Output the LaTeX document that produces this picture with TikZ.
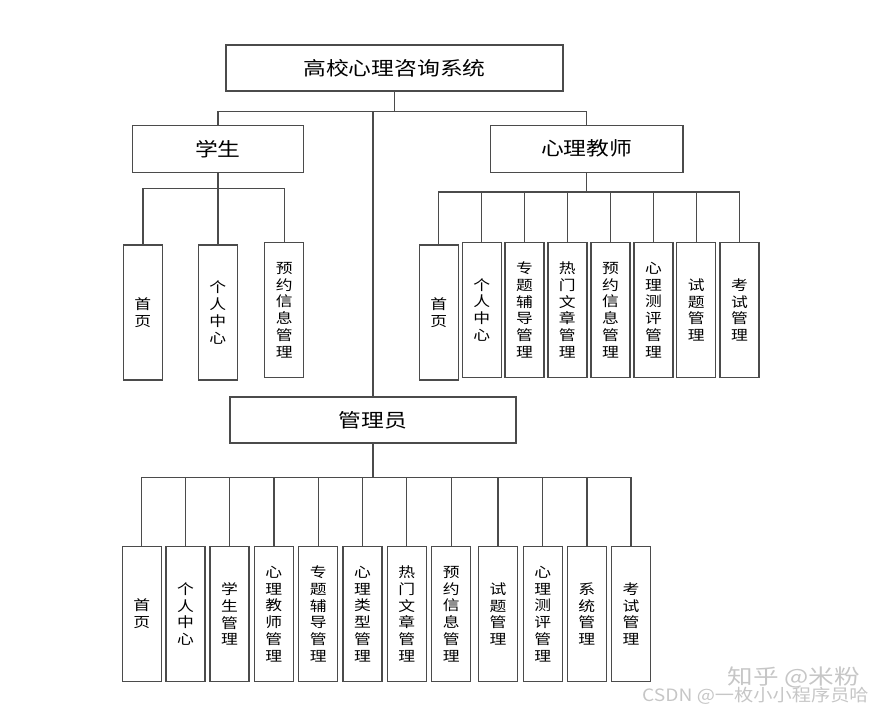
\documentclass[tikz,border=0pt]{standalone}
\usepackage{fontspec}
\usepackage{graphicx}
\usepackage{xcolor}
\setmainfont{Noto Sans CJK SC}
\definecolor{linegray}{RGB}{75,75,75}

\begin{document}
\begin{tikzpicture}[
    x=1pt, y=-1pt,
    conn/.style={draw=linegray, line width=1.4pt},
    topbox/.style={draw=linegray, line width=1.4pt, inner sep=0pt, xscale=1.2,
        font=\fontsize{19}{22}\selectfont},
    leaf/.style={draw=linegray, line width=1.4pt, inner sep=0pt, xscale=1.2,
        minimum width=32.5pt, minimum height=135pt, align=center,
        font=\fontsize{14}{16.8}\selectfont},
    wmark/.style={text=gray!45, inner sep=0pt}
]
\useasboundingbox (0,0) rectangle (887,715);

% Top level
\node[topbox, minimum width=280.8pt, minimum height=46pt] (sys) at (394.5,68) {高校心理咨询系统};
\node[topbox, minimum width=142.5pt, minimum height=47pt] (stu) at (217.8,148.8) {学生};
\node[topbox, minimum width=160.8pt, minimum height=47pt] (tea) at (586.7,148.8) {心理教师};
\node[topbox, minimum width=238.3pt, minimum height=46pt] (adm) at (373,420) {管理员};

% Student modules
\node[leaf] (s1) at (142.8,312.5) {首\\页};
\node[leaf] (s2) at (217.8,312.5) {个\\人\\中\\心};
\node[leaf] (s3) at (284.2,310) {预\\约\\信\\息\\管\\理};

% Teacher modules
\node[leaf] (t1) at (438.7,312.5) {首\\页};
\node[leaf] (t2) at (481.7,309.8) {个\\人\\中\\心};
\node[leaf] (t3) at (524.5,310) {专\\题\\辅\\导\\管\\理};
\node[leaf] (t4) at (567.3,310) {热\\门\\文\\章\\管\\理};
\node[leaf] (t5) at (610.5,310) {预\\约\\信\\息\\管\\理};
\node[leaf] (t6) at (653.4,310) {心\\理\\测\\评\\管\\理};
\node[leaf] (t7) at (696.2,310) {试\\题\\管\\理};
\node[leaf] (t8) at (739.4,310) {考\\试\\管\\理};

% Admin modules
\node[leaf] (a1) at (141.7,614) {首\\页};
\node[leaf] (a2) at (185.5,614) {个\\人\\中\\心};
\node[leaf] (a3) at (229.5,614) {学\\生\\管\\理};
\node[leaf] (a4) at (273.8,614) {心\\理\\教\\师\\管\\理};
\node[leaf] (a5) at (318.2,614) {专\\题\\辅\\导\\管\\理};
\node[leaf] (a6) at (362.5,614) {心\\理\\类\\型\\管\\理};
\node[leaf] (a7) at (406.7,614) {热\\门\\文\\章\\管\\理};
\node[leaf] (a8) at (451.2,614) {预\\约\\信\\息\\管\\理};
\node[leaf] (a9) at (498,614) {试\\题\\管\\理};
\node[leaf] (a10) at (542.7,614) {心\\理\\测\\评\\管\\理};
\node[leaf] (a11) at (586.8,614) {系\\统\\管\\理};
\node[leaf] (a12) at (631,614) {考\\试\\管\\理};

% Connectors from the system box
\draw[conn] (sys.south) -- ++(0,19.5) coordinate (j0);
\draw[conn] (stu.north) |- (j0) -| (tea.north);
\draw[conn] (adm.north) -- (adm.north |- j0);

% Student branch
\draw[conn] (stu.south) -- ++(0,15.2) coordinate (js);
\draw[conn] (s1.north) |- (js) -| (s3.north);
\draw[conn] (js) -- (s2.north);

% Teacher branch
\draw[conn] (tea.south) -- ++(0,19) coordinate (jt);
\draw[conn] (t1.north) |- (jt) -| (t8.north);
\foreach \c in {t2,t3,t4,t5,t6,t7} {
    \draw[conn] (jt -| \c.north) -- (\c.north);
}

% Admin branch
\draw[conn] (adm.south) -- ++(0,34) coordinate (ja);
\draw[conn] (a1.north) |- (ja) -| (a12.north);
\foreach \c in {a2,a3,a4,a5,a6,a7,a8,a9,a10,a11} {
    \draw[conn] (ja -| \c.north) -- (\c.north);
}

% Watermarks
\node[wmark, xscale=1.22, font=\fontsize{21}{21}\selectfont] (zhihu) at (794,677) {知乎 @米粉};
\node[wmark, xscale=1.13, font=\fontsize{17}{17}\selectfont, anchor=west] (csdn) at (642,696) {CSDN @一枚小小程序员哈};

\end{tikzpicture}
\end{document}
